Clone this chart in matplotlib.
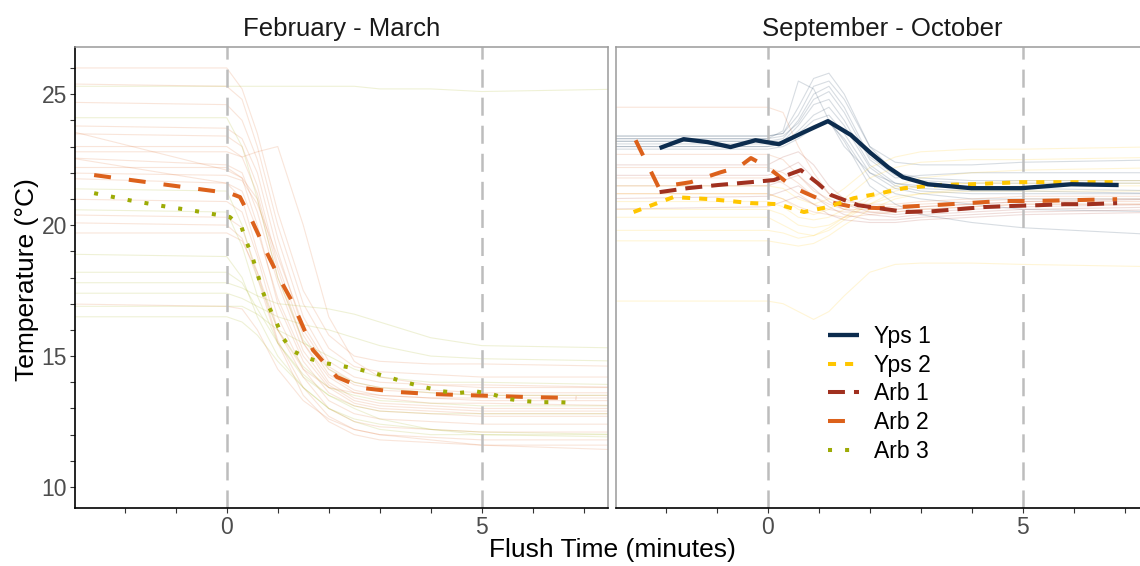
import matplotlib
matplotlib.use("Agg")
import matplotlib.pyplot as plt
from matplotlib.lines import Line2D
from matplotlib.ticker import FixedLocator, FuncFormatter
import numpy as np

plt.rcParams['font.family'] = ['Liberation Sans', 'DejaVu Sans']
plt.rcParams['lines.scale_dashes'] = False

# ---------------- data ----------------
panel_titles = ["February - March", "September - October"]
series_names = ["Yps 1", "Yps 2", "Arb 1", "Arb 2", "Arb 3"]
series_colors = ["#0c2c4e", "#ffc600", "#a0301f", "#dc611b", "#9dab06"]

# --- mean curves, February - March ---
feb_arb2_t = [-2.6, -1.26, 0.06, 0.26, 0.49, 0.79, 1.04, 1.25, 1.44, 1.69, 2.16, 2.67, 3.34, 4.03, 4.68, 5.37, 6.0, 6.85]
feb_arb2_y = [21.91, 21.56, 21.22, 21.07, 20.19, 18.93, 17.94, 17.2, 16.37, 15.23, 14.20, 13.78, 13.63, 13.55, 13.51, 13.47, 13.43, 13.40]
feb_arb3_t = [-2.6, -1.91, -1.26, -0.59, 0.06, 0.29, 0.39, 0.51, 0.61, 0.71, 0.83, 0.98, 1.10, 1.30, 1.59, 1.93, 2.26, 2.58, 2.89,
              3.23, 3.56, 3.87, 4.21, 4.54, 4.86, 5.19, 5.53, 5.84, 6.17, 6.51, 6.84]
feb_arb3_y = [21.22, 20.95, 20.73, 20.53, 20.31, 19.92, 19.35, 18.74, 18.09, 17.44, 16.87, 16.26, 15.69, 15.19, 14.92, 14.73, 14.62, 14.50, 14.35,
              14.16, 13.97, 13.82, 13.66, 13.59, 13.66, 13.55, 13.36, 13.28, 13.24, 13.24, 13.21]

# --- mean curves, September - October ---
sep_yps1_t = [-2.12, -1.65, -1.18, -0.73, -0.24, 0.22, 0.71, 1.18, 1.63, 2.02, 2.36, 2.65, 3.14, 3.99, 4.97, 5.95, 6.88]
sep_yps1_y = [22.94, 23.28, 23.17, 22.98, 23.24, 23.09, 23.55, 23.97, 23.44, 22.75, 22.21, 21.83, 21.56, 21.41, 21.41, 21.56, 21.53]
sep_yps2_t = [-2.63, -1.85, -1.12, -0.33, 0.20, 0.71, 1.18, 1.69, 2.22, 2.67, 3.34, 3.99, 4.97, 5.95, 6.88]
sep_yps2_y = [20.50, 21.07, 20.99, 20.84, 20.80, 20.50, 20.69, 21.03, 21.22, 21.41, 21.53, 21.56, 21.64, 21.64, 21.64]
sep_arb1_t = [-2.12, -1.57, -0.98, -0.33, 0.12, 0.65, 0.98, 1.24, 1.77, 2.16, 2.71, 3.24, 3.75, 4.24, 4.77, 5.30, 5.82, 6.29, 6.85]
sep_arb1_y = [21.26, 21.41, 21.53, 21.64, 21.72, 22.10, 21.60, 21.15, 20.76, 20.65, 20.50, 20.53, 20.61, 20.69, 20.73, 20.76, 20.80, 20.80, 20.84]
sep_arb2_t = [-2.59, -2.14, -1.51, -0.92, -0.57, -0.33, 0.00, 0.49, 0.75, 1.10, 1.69, 2.16, 3.24, 3.93, 4.58, 5.27, 5.91, 6.85]
sep_arb2_y = [23.24, 21.45, 21.64, 22.02, 22.21, 22.56, 22.21, 21.45, 21.22, 20.92, 20.69, 20.65, 20.76, 20.84, 20.92, 20.92, 20.95, 20.99]

# --- individual flush traces (faint), February - March ---
feb_trace_t = [-3.5, 0.0, 0.3, 0.6, 1.0, 1.5, 2.0, 2.5, 3.0, 4.0, 5.0, 8.0]
feb_arb2_traces = [
    [26.0, 26.0, 25.2, 23.5, 20.5, 17.5, 15.8, 15.0, 14.8, 14.7, 14.7, 14.6],
    [25.4, 25.3, 24.8, 23.0, 20.0, 17.0, 15.3, 14.6, 14.4, 14.3, 14.2, 14.2],
    [24.7, 24.6, 24.0, 22.5, 19.5, 16.5, 14.8, 14.2, 14.0, 13.9, 13.9, 13.8],
    [23.8, 23.7, 23.3, 22.0, 19.0, 16.0, 14.5, 13.9, 13.7, 13.6, 13.5, 13.5],
    [23.5, 23.4, 23.0, 21.5, 18.5, 15.8, 14.3, 13.7, 13.5, 13.4, 13.3, 13.3],
    [23.8, 22.1, 21.8, 21.0, 18.0, 15.5, 14.2, 13.6, 13.4, 13.2, 13.2, 13.1],
    [22.8, 22.8, 22.6, 22.8, 23.0, 20.0, 16.5, 14.8, 14.2, 13.9, 13.8, 13.8],
    [22.6, 22.3, 22.0, 20.5, 17.8, 15.2, 13.9, 13.3, 13.1, 13.0, 12.9, 12.9],
    [22.2, 22.2, 21.8, 20.0, 17.0, 14.8, 13.6, 13.1, 12.9, 12.8, 12.7, 12.7],
    [22.7, 21.6, 21.3, 19.8, 17.2, 15.0, 13.8, 13.2, 13.0, 12.9, 12.8, 12.8],
    [21.8, 21.6, 21.0, 19.0, 16.5, 14.5, 13.3, 12.8, 12.6, 12.5, 12.4, 12.4],
    [21.0, 20.9, 20.5, 18.8, 16.0, 14.2, 13.0, 12.5, 12.3, 12.2, 12.1, 12.1],
    [20.4, 20.3, 19.9, 18.2, 15.6, 13.8, 12.7, 12.2, 12.0, 11.9, 11.8, 11.8],
    [20.1, 20.0, 19.5, 18.0, 15.5, 13.5, 12.5, 12.0, 11.8, 11.7, 11.6, 11.6],
    [19.7, 19.7, 19.4, 18.2, 16.0, 14.5, 13.8, 13.6, 13.5, 13.4, 13.4, 13.4],
    [22.0, 21.9, 21.7, 20.8, 18.8, 16.2, 14.6, 14.0, 13.8, 13.7, 13.6, 13.6],
    [23.0, 23.0, 22.6, 21.2, 18.3, 15.5, 14.0, 13.4, 13.2, 13.1, 13.0, 13.0],
    [17.0, 16.9, 16.8, 16.0, 14.5, 13.3, 12.6, 12.2, 12.0, 11.8, 11.6, 11.4],
]
feb_arb3_traces = [
    [25.3, 25.3, 25.3, 25.3, 25.3, 25.3, 25.3, 25.3, 25.2, 25.2, 25.1, 25.2],
    [24.1, 24.1, 23.0, 21.0, 18.0, 15.6, 14.5, 14.0, 13.8, 13.6, 13.5, 13.5],
    [21.4, 21.3, 20.0, 18.0, 16.0, 14.6, 13.8, 13.5, 13.3, 13.2, 13.1, 13.1],
    [20.6, 20.5, 19.2, 17.3, 15.5, 14.2, 13.5, 13.1, 12.9, 12.8, 12.8, 12.8],
    [18.9, 18.8, 18.0, 16.5, 15.0, 13.8, 13.0, 12.6, 12.4, 12.2, 12.0, 11.9],
    [18.2, 18.2, 17.8, 16.8, 15.5, 14.3, 13.5, 13.0, 12.6, 12.2, 12.1, 12.0],
    [17.8, 17.8, 17.6, 17.3, 17.0, 16.9, 16.8, 16.6, 16.3, 15.7, 15.4, 15.3],
    [17.4, 17.4, 17.2, 16.9, 16.5, 16.2, 16.0, 15.7, 15.4, 15.0, 14.9, 14.8],
    [16.9, 16.9, 16.9, 16.6, 16.0, 15.5, 15.0, 14.5, 14.2, 14.0, 14.0, 13.9],
    [16.5, 16.5, 16.3, 15.8, 14.8, 13.8, 13.0, 12.5, 12.2, 12.0, 12.0, 12.0],
]

# --- individual flush traces (faint), September - October ---
sep_trace_t = [-3.5, 0.0, 0.3, 0.6, 0.9, 1.2, 1.5, 2.0, 2.5, 3.0, 4.0, 5.0, 8.0]
sep_yps1_traces = [
    [23.4, 23.4, 23.5, 24.5, 25.6, 25.8, 25.0, 23.0, 22.0, 21.8, 21.7, 21.7, 21.7],
    [23.3, 23.3, 23.6, 25.5, 25.2, 24.0, 23.0, 22.0, 21.6, 21.5, 21.4, 21.4, 21.3],
    [23.2, 23.2, 23.3, 24.0, 25.0, 25.3, 24.5, 22.6, 21.9, 21.7, 21.6, 21.6, 21.6],
    [23.1, 23.1, 23.2, 23.8, 24.6, 24.8, 24.0, 22.3, 21.6, 21.4, 21.3, 21.3, 21.2],
    [23.0, 23.0, 23.1, 23.6, 24.2, 24.5, 23.8, 22.2, 21.5, 21.3, 21.2, 21.2, 21.2],
    [23.3, 23.3, 23.4, 23.9, 24.8, 25.1, 24.3, 22.5, 21.8, 21.9, 22.0, 22.0, 22.0],
    [23.2, 23.2, 23.2, 23.5, 24.0, 24.2, 23.5, 22.0, 21.4, 21.2, 21.0, 21.0, 21.0],
    [22.9, 22.9, 23.0, 23.3, 23.7, 23.9, 23.3, 21.8, 21.2, 21.0, 20.8, 20.6, 20.5],
    [23.0, 23.0, 23.1, 23.4, 23.8, 24.0, 23.2, 21.5, 20.8, 20.4, 20.1, 19.9, 19.6],
    [23.4, 23.4, 23.5, 24.2, 25.3, 25.5, 24.8, 23.0, 22.4, 22.3, 22.3, 22.4, 22.5],
]
sep_yps2_traces = [
    [21.5, 21.5, 21.4, 21.0, 20.8, 21.0, 21.4, 22.2, 22.6, 22.8, 22.9, 22.9, 23.0],
    [21.2, 21.2, 21.0, 20.6, 20.4, 20.6, 21.0, 21.8, 22.2, 22.4, 22.5, 22.5, 22.6],
    [20.9, 20.9, 20.7, 20.3, 20.2, 20.3, 20.6, 21.1, 21.4, 21.5, 21.6, 21.6, 21.6],
    [20.6, 20.6, 20.4, 20.0, 19.9, 20.0, 20.3, 20.8, 21.1, 21.2, 21.3, 21.3, 21.3],
    [20.3, 20.3, 20.0, 19.7, 19.6, 19.8, 20.2, 20.8, 21.3, 21.5, 21.6, 21.7, 21.7],
    [19.8, 19.8, 19.7, 19.5, 19.6, 19.9, 20.3, 21.0, 21.5, 21.8, 22.0, 22.1, 22.2],
    [19.4, 19.4, 19.3, 19.2, 19.3, 19.6, 20.0, 20.6, 21.0, 21.2, 21.4, 21.5, 21.5],
    [17.1, 17.1, 17.0, 16.7, 16.4, 16.7, 17.3, 18.2, 18.5, 18.55, 18.55, 18.5, 18.4],
]
sep_arb1_traces = [
    [22.3, 22.3, 22.6, 22.8, 22.3, 21.5, 21.0, 20.7, 20.6, 20.7, 20.8, 20.9, 21.0],
    [21.9, 21.9, 22.1, 22.4, 21.8, 21.2, 20.8, 20.5, 20.4, 20.5, 20.6, 20.7, 20.8],
    [21.5, 21.5, 21.7, 21.9, 21.4, 20.9, 20.6, 20.4, 20.3, 20.4, 20.5, 20.6, 20.7],
    [21.0, 21.1, 21.3, 21.5, 21.1, 20.7, 20.4, 20.2, 20.2, 20.3, 20.4, 20.5, 20.6],
    [20.6, 20.7, 20.9, 21.1, 20.8, 20.4, 20.2, 20.1, 20.1, 20.2, 20.3, 20.4, 20.5],
]
sep_arb2_traces = [
    [24.5, 24.5, 24.3, 23.0, 22.0, 21.2, 20.9, 20.8, 20.8, 20.9, 21.0, 21.1, 21.1],
    [22.7, 22.7, 22.5, 21.9, 21.3, 21.0, 20.8, 20.7, 20.7, 20.8, 20.9, 21.0, 21.0],
    [22.2, 22.2, 22.0, 21.6, 21.1, 20.8, 20.6, 20.6, 20.6, 20.7, 20.8, 20.9, 20.9],
    [21.8, 21.8, 21.6, 21.2, 20.8, 20.6, 20.5, 20.5, 20.5, 20.6, 20.7, 20.8, 20.8],
    [21.2, 21.2, 21.0, 20.7, 20.5, 20.4, 20.3, 20.4, 20.5, 20.6, 20.7, 20.8, 20.8],
]

flush_marks = [0, 5]
x_ticks = [-2, -1, 0, 1, 2, 3, 4, 5, 6, 7]
x_labeled = [0, 5]
y_ticks = list(range(10, 27))
y_labeled = [10, 15, 20, 25]

# ---------------- styling ----------------
W, H = 1140, 566
fig = plt.figure(figsize=(W / 100, H / 100), dpi=100)

def fx(px):
    return px / W

def fy(py):
    return 1 - py / H

ax_l = fig.add_axes([fx(75), fy(508), fx(608 - 75), (508 - 47) / H])
ax_r = fig.add_axes([fx(616), fy(508), fx(608 - 75), (508 - 47) / H])

styles = {
    "Yps 1": dict(lw=3.1, ls='-'),
    "Yps 2": dict(lw=2.9, ls=(0, (5.8, 6.5))),
    "Arb 1": dict(lw=2.9, ls=(0, (12.2, 6.5))),
    "Arb 2": dict(lw=2.9, ls=(0, (12.2, 13.0))),
    "Arb 3": dict(lw=2.9, ls=(0, (2.9, 9.4))),
}
col = dict(zip(series_names, series_colors))

bg_alpha = 0.16
bg_lw = 0.8

def draw_traces(ax, t, traces, name):
    for tr in traces:
        ax.plot(t, tr, color=col[name], lw=bg_lw, alpha=bg_alpha, zorder=1)

draw_traces(ax_l, feb_trace_t, feb_arb2_traces, "Arb 2")
draw_traces(ax_l, feb_trace_t, feb_arb3_traces, "Arb 3")
draw_traces(ax_r, sep_trace_t, sep_yps1_traces, "Yps 1")
draw_traces(ax_r, sep_trace_t, sep_yps2_traces, "Yps 2")
draw_traces(ax_r, sep_trace_t, sep_arb1_traces, "Arb 1")
draw_traces(ax_r, sep_trace_t, sep_arb2_traces, "Arb 2")

for ax in (ax_l, ax_r):
    for xm in flush_marks:
        ax.axvline(xm, color="#bdbdbd", lw=1.8, ls=(0, (13, 7.2)), zorder=2)

def draw_mean(ax, t, y, name):
    st = styles[name]
    ax.plot(t, y, color=col[name], lw=st['lw'], ls=st['ls'],
            dash_capstyle='butt', solid_capstyle='butt', solid_joinstyle='round', zorder=3)

draw_mean(ax_l, feb_arb2_t, feb_arb2_y, "Arb 2")
draw_mean(ax_l, feb_arb3_t, feb_arb3_y, "Arb 3")
draw_mean(ax_r, sep_arb2_t, sep_arb2_y, "Arb 2")
draw_mean(ax_r, sep_arb1_t, sep_arb1_y, "Arb 1")
draw_mean(ax_r, sep_yps2_t, sep_yps2_y, "Yps 2")
draw_mean(ax_r, sep_yps1_t, sep_yps1_y, "Yps 1")

for i, ax in enumerate((ax_l, ax_r)):
    ax.set_xlim(-2.975, 7.475)
    ax.set_ylim(9.2, 26.8)
    ax.xaxis.set_major_locator(FixedLocator(x_ticks))
    ax.xaxis.set_major_formatter(FuncFormatter(lambda v, p: f"{int(round(v))}" if int(round(v)) in x_labeled else ""))
    ax.yaxis.set_major_locator(FixedLocator(y_ticks))
    ax.yaxis.set_major_formatter(FuncFormatter(lambda v, p: f"{int(round(v))}" if int(round(v)) in y_labeled else ""))
    ax.tick_params(axis='both', direction='out', length=3.3, width=0.8, color="#333333",
                   labelsize=16.5, labelcolor="#4d4d4d", pad=2.5)
    for s in ('top', 'right', 'left'):
        ax.spines[s].set_color("#9a9a9a")
        ax.spines[s].set_linewidth(1.1)
    ax.spines['bottom'].set_color("#000000")
    ax.spines['bottom'].set_linewidth(1.2)
    ax.set_facecolor('white')
    ax.set_title(panel_titles[i], fontsize=18.5, color="#1a1a1a", pad=8)

ax_l.spines['left'].set_color("#000000")
ax_l.spines['left'].set_linewidth(1.2)
ax_r.tick_params(axis='y', left=False, labelleft=False)

fig.text(fx(612), fy(550), "Flush Time (minutes)", ha='center', va='center', fontsize=19, color="#000000")
fig.text(fx(27), fy(280), "Temperature (°C)", ha='center', va='center', rotation=90, fontsize=19, color="#000000")

handles = []
for name in series_names:
    st = styles[name]
    h = Line2D([0], [0], color=col[name], lw=st['lw'], ls=st['ls'], dash_capstyle='butt', solid_capstyle='butt')
    handles.append(h)
fig.legend(handles, series_names, loc='upper left', bbox_to_anchor=(fx(828), fy(325)),
           frameon=False, fontsize=16.5, handlelength=1.35, handletextpad=0.65,
           labelspacing=0.25, borderpad=0, borderaxespad=0)

fig.savefig("out.png", dpi=100)
